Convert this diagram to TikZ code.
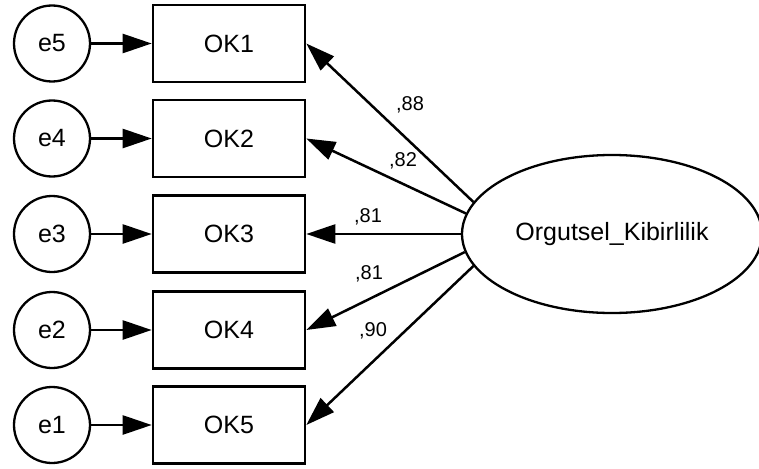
\documentclass[tikz,border=0pt]{standalone}
\usepackage{fontspec}
\setmainfont{Liberation Sans}
\usetikzlibrary{arrows.meta,shapes.geometric}
\begin{document}
\begin{tikzpicture}[x=1pt,y=-1pt,
  errc/.style={draw,circle,minimum size=76pt,inner sep=0pt,line width=2.3pt,font=\fontsize{25}{30}\selectfont},
  obsbox/.style={draw,rectangle,minimum width=152pt,minimum height=77pt,inner sep=0pt,line width=2.6pt,font=\fontsize{25}{30}\selectfont},
  lat/.style={draw,ellipse,minimum width=300pt,minimum height=158pt,inner sep=0pt,line width=2.3pt,font=\fontsize{25}{30}\selectfont},
  load/.style={-{Triangle[length=29pt,width=19pt]},line width=2.5pt},
  lbl/.style={font=\fontsize{20}{24}\selectfont,inner sep=0pt}]
\useasboundingbox (0,0) rectangle (759,468);
% latent
\node[lat] (L) at (612,234) {Orgutsel\_Kibirlilik};
% observed
\node[obsbox] (o1) at (229,43.5) {OK1};
\node[obsbox] (o2) at (229,138.5) {OK2};
\node[obsbox] (o3) at (229,234) {OK3};
\node[obsbox] (o4) at (229,330) {OK4};
\node[obsbox] (o5) at (229,425) {OK5};
% errors
\node[errc] (e5) at (52,43.5) {e5};
\node[errc] (e4) at (52,138.5) {e4};
\node[errc] (e3) at (52,234) {e3};
\node[errc] (e2) at (52,330) {e2};
\node[errc] (e1) at (52,425) {e1};
% error paths
\draw[load] (e5) -- (o1);
\draw[load] (e4) -- (o2);
\draw[load] (e3) -- (o3);
\draw[load] (e2) -- (o4);
\draw[load] (e1) -- (o5);
% loadings
\draw[load] (L.167) -- (o1.east);
\draw[load] (L.172.5) -- (o2.east);
\draw[load] (L.180) -- (o3.east);
\draw[load] (L.187.5) -- (o4.east);
\draw[load] (L.193) -- (o5.east);
% labels
\node[lbl] (l1) at (410,105) {,88};
\node[lbl] (l2) at (403,161) {,82};
\node[lbl] (l3) at (368,217) {,81};
\node[lbl] (l4) at (369,274) {,81};
\node[lbl] (l5) at (373,331) {,90};
\end{tikzpicture}
\end{document}
